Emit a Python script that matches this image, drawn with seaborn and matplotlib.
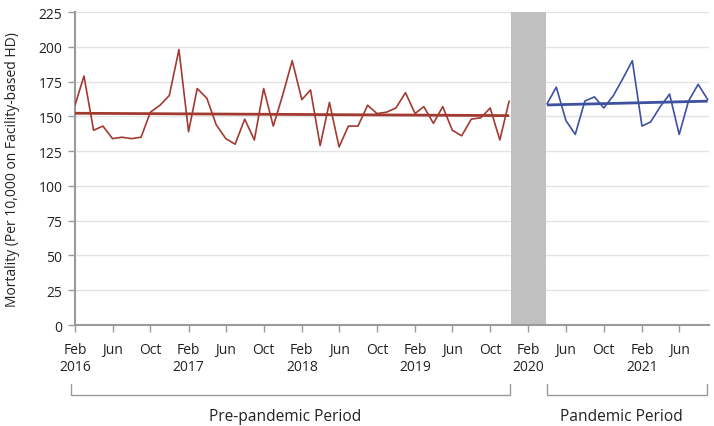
import numpy as np
import pandas as pd
import matplotlib
matplotlib.use("Agg")
import matplotlib.pyplot as plt
import matplotlib.dates as mdates
import matplotlib.transforms as mtransforms
import seaborn as sns

# monthly mortality per 10,000
pre_start = "2016-02-01"
pre_values = [158, 179, 140, 143, 134, 135, 134, 135, 153, 158, 165, 198,
              139, 170, 163, 144, 134, 130, 148, 133, 170, 143, 165, 190,
              162, 169, 129, 160, 128, 143, 143, 158, 152, 153, 156, 167,
              152, 157, 145, 157, 140, 136, 148, 149, 156, 133, 161]
pan_start = "2020-04-01"
pan_values = [159, 171, 147, 137, 161, 164, 156, 165, 177, 190, 143, 146,
              157, 166, 137, 161, 173, 162]

tick_start, tick_end = "2016-02-01", "2021-06-01"
gap_start, gap_end = "2019-12-08", "2020-03-29"
period_labels = ["Pre-pandemic Period", "Pandemic Period"]

red = "#a33a31"
blue = "#3e51a1"

pre = pd.DataFrame({"date": pd.date_range(pre_start, periods=len(pre_values), freq="MS"),
                    "value": pre_values})
pan = pd.DataFrame({"date": pd.date_range(pan_start, periods=len(pan_values), freq="MS"),
                    "value": pan_values})

sns.set_style("white")
plt.rcParams["font.family"] = ["Open Sans", "DejaVu Sans"]

fig = plt.figure(figsize=(7.14, 4.27), dpi=100)
ax = fig.add_axes([0.105, 0.2365, 0.888, 0.733])

# shaded gap between the two periods
ax.axvspan(pd.Timestamp(gap_start), pd.Timestamp(gap_end), color="#c0c0c0", lw=0, zorder=1)

for df, col in [(pre, red), (pan, blue)]:
    sns.lineplot(data=df, x="date", y="value", color=col, lw=1.2, ax=ax, zorder=3)
    # linear trend fitted on month index
    idx = np.arange(len(df))
    slope, icpt = np.polyfit(idx, df["value"], 1)
    ax.plot(df["date"], icpt + slope * idx, color=col, lw=2, zorder=4,
            solid_capstyle="butt")

ax.set_ylim(0, 225)
ax.set_yticks(range(0, 226, 25))
ax.set_xlim(pd.Timestamp(pre_start), pan["date"].iloc[-1] + pd.Timedelta(days=4))
ax.grid(axis="y", color="#e3e3e3", lw=1, zorder=0)
ax.set_axisbelow(True)

ticks = pd.date_range(tick_start, tick_end, freq="4MS")
labels = [d.strftime("%b") + ("\n" + d.strftime("%Y") if d.month == 2 else "") for d in ticks]
ax.set_xticks(ticks)
ax.set_xticklabels(labels, fontsize=10, color="#222222", linespacing=1.25)
ax.tick_params(axis="y", labelsize=10, labelcolor="#222222", pad=4)
ax.tick_params(axis="x", pad=7)
ax.tick_params(axis="both", length=5, width=1, color="#9a9a9a", direction="out",
               bottom=True, left=True)

for s in ["top", "right"]:
    ax.spines[s].set_visible(False)
for s in ["left", "bottom"]:
    ax.spines[s].set_color("#9a9a9a")
    ax.spines[s].set_linewidth(1.5)

ax.set_xlabel("")
ax.set_ylabel("Mortality (Per 10,000 on Facility-based HD)", fontsize=10, color="#222222",
              labelpad=13)

# period brackets below the axis
trans = mtransforms.blended_transform_factory(ax.transData, ax.transAxes)
spans = [(pd.Timestamp(pre_start) - pd.Timedelta(days=14), pre["date"].iloc[-1] + pd.Timedelta(days=2)),
         (pan["date"].iloc[0], pan["date"].iloc[-1] - pd.Timedelta(days=4))]
y_top, y_bot, y_txt = -0.19, -0.223, -0.29
for (x0, x1), lab in zip(spans, period_labels):
    x0n, x1n = mdates.date2num(x0), mdates.date2num(x1)
    ax.plot([x0n, x0n, x1n, x1n], [y_top, y_bot, y_bot, y_top], color="#9a9a9a", lw=1,
            transform=trans, clip_on=False)
    ax.annotate(lab, ((x0n + x1n) / 2, y_txt), xycoords=trans, xytext=(-5, 0),
                textcoords="offset pixels", ha="center", va="center", fontsize=11.2,
                color="#222222", annotation_clip=False)

fig.savefig("out.png", dpi=100)
